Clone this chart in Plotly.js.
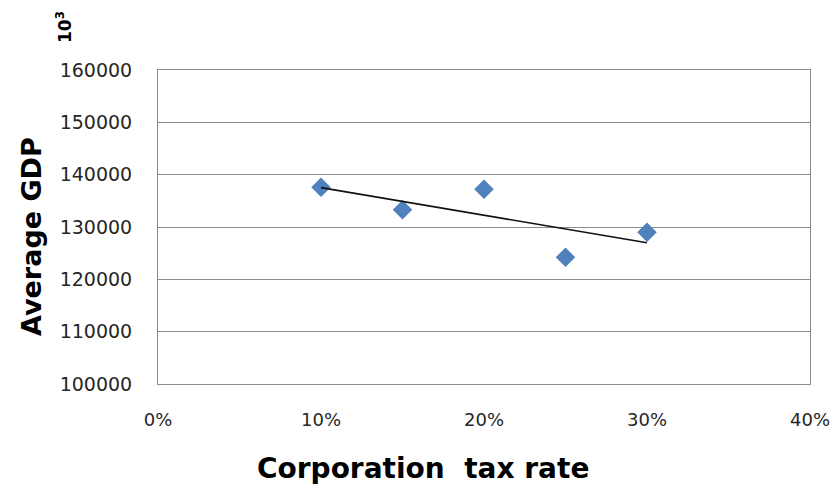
<!DOCTYPE html>
<html>
<head>
<meta charset="utf-8">
<script src="https://cdn.plot.ly/plotly-3.0.1.min.js"></script>
<style>
  html, body { margin: 0; padding: 0; background: #fff; }
  #chart { width: 833px; height: 488px; }
</style>
</head>
<body>
<div id="chart"></div>
<script>
// Corporation tax rate vs. average GDP (thousands)
const taxRates = [0.10, 0.15, 0.20, 0.25, 0.30];
const avgGdp = [137600, 133300, 137200, 124200, 129000];

const xTickVals = [0, 0.1, 0.2, 0.3, 0.4];
const xTickText = ['0%', '10%', '20%', '30%', '40%'];
const yTickVals = [100000, 110000, 120000, 130000, 140000, 150000, 160000];
const yTickText = ['100000', '110000', '120000', '130000', '140000', '150000', '160000'];

// Least-squares linear trendline over the observed rates
function linearFit(xs, ys) {
  const n = xs.length;
  const mx = xs.reduce((a, b) => a + b, 0) / n;
  const my = ys.reduce((a, b) => a + b, 0) / n;
  let sxy = 0, sxx = 0;
  for (let i = 0; i < n; i++) {
    sxy += (xs[i] - mx) * (ys[i] - my);
    sxx += (xs[i] - mx) * (xs[i] - mx);
  }
  const slope = sxy / sxx;
  return x => my + slope * (x - mx);
}
const fit = linearFit(taxRates, avgGdp);
const trendX = [Math.min(...taxRates), Math.max(...taxRates)];
const trendY = trendX.map(fit);

const titleFont = { family: 'DejaVu Sans', size: 27, color: '#000', weight: 'bold' };

const traces = [
  {
    x: taxRates, y: avgGdp, type: 'scatter', mode: 'markers',
    marker: { symbol: 'diamond', size: 15, color: '#4F81BD', line: { width: 0 } },
    hoverinfo: 'x+y'
  },
  {
    x: trendX, y: trendY, type: 'scatter', mode: 'lines',
    line: { color: '#111', width: 1.6 },
    hoverinfo: 'skip'
  }
];

const layout = {
  width: 833, height: 488,
  margin: { l: 158, r: 23, t: 70, b: 104 },
  paper_bgcolor: '#fff', plot_bgcolor: '#fff',
  showlegend: false,
  xaxis: {
    range: [0, 0.4], tickvals: xTickVals, ticktext: xTickText,
    showgrid: false, zeroline: false,
    showline: true, linecolor: '#8c8c8c', linewidth: 1, mirror: true,
    ticks: '', ticklabelstandoff: 19,
    tickfont: { family: 'DejaVu Sans', size: 18, color: '#262626' }
  },
  yaxis: {
    range: [100000, 160000], tickvals: yTickVals, ticktext: yTickText,
    showgrid: true, gridcolor: '#8c8c8c', gridwidth: 1, zeroline: false,
    showline: true, linecolor: '#8c8c8c', linewidth: 1, mirror: true,
    ticks: '', ticklabelstandoff: 21,
    tickfont: { family: 'DejaVu Sans', size: 19, color: '#262626' }
  },
  annotations: [
    {
      text: 'Corporation\u00a0\u00a0tax rate', xref: 'paper', yref: 'paper',
      x: (423 - 158) / 652, y: -0.27, xanchor: 'center', yanchor: 'middle',
      showarrow: false, font: { family: 'DejaVu Sans', size: 28, color: '#000', weight: 'bold' }
    },
    {
      text: 'Average GDP', xref: 'paper', yref: 'paper', textangle: -90,
      x: (31 - 158) / 652, y: (384 - 236) / 314, xanchor: 'center', yanchor: 'middle',
      showarrow: false, font: titleFont
    },
    {
      text: '10<sup>3</sup>', xref: 'paper', yref: 'paper', textangle: -90,
      x: (64 - 158) / 652, y: (384 - 27) / 314, xanchor: 'center', yanchor: 'middle',
      showarrow: false, font: { family: 'DejaVu Sans', size: 17, color: '#000', weight: 'bold' }
    }
  ]
};

Plotly.newPlot('chart', traces, layout, { displayModeBar: false, staticPlot: true });
</script>
</body>
</html>
